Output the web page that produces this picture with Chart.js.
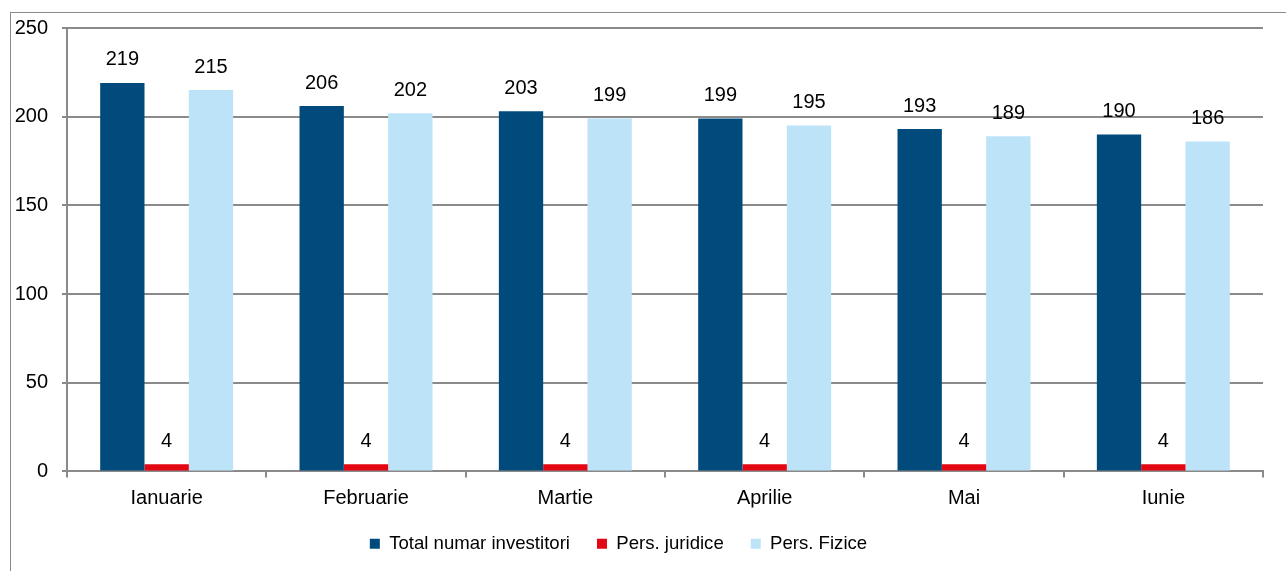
<!DOCTYPE html>
<html>
<head>
<meta charset="utf-8">
<script src="https://cdn.jsdelivr.net/npm/chart.js@4.4.0/dist/chart.umd.min.js"></script>
<style>
    html, body { margin: 0; padding: 0; background: #fff; }
    #frame { position: absolute; left: 10px; top: 12px; width: 1300px; height: 600px; border: 1px solid #8a8a8a; }
    #wrap { position: absolute; left: 0; top: 0; width: 1286px; height: 571px; }
</style>
</head>
<body>
<div id="frame"></div>
<div id="wrap"><canvas id="investChart"></canvas></div>
<script>
// Chart data
var months = ['Ianuarie', 'Februarie', 'Martie', 'Aprilie', 'Mai', 'Iunie'];
var totalInvestitori = [219, 206, 203, 199, 193, 190];
var persJuridice = [4, 4, 4, 4, 4, 4];
var persFizice = [215, 202, 199, 195, 189, 186];
var yTicks = [0, 50, 100, 150, 200, 250];

var fontFamily = '"Liberation Sans", Arial, sans-serif';

// Values above bars
var valueLabels = {
    id: 'valueLabels',
    afterDatasetsDraw: function(chart) {
        var ctx = chart.ctx;
        ctx.save();
        ctx.font = '20px ' + fontFamily;
        ctx.fillStyle = '#000';
        ctx.textAlign = 'center';
        ctx.textBaseline = 'middle';
        chart.data.datasets.forEach(function(ds, i) {
            chart.getDatasetMeta(i).data.forEach(function(bar, j) {
                ctx.fillText(ds.data[j], bar.x, bar.y - 23);
            });
        });
        ctx.restore();
    }
};

// Legend sits a bit left of centre in the original
var legendShift = {
    id: 'legendShift',
    afterLayout: function(chart) {
        chart.legend.left -= 18;
        chart.legend.right -= 18;
    }
};

var ctx = document.getElementById('investChart').getContext('2d');
new Chart(ctx, {
    type: 'bar',
    data: {
        labels: months,
        datasets: [{
            label: 'Total numar investitori',
            data: totalInvestitori,
            backgroundColor: '#004a7c'
        }, {
            label: 'Pers. juridice',
            data: persJuridice,
            backgroundColor: '#e30613'
        }, {
            label: 'Pers. Fizice',
            data: persFizice,
            backgroundColor: '#bde3f8'
        }]
    },
    options: {
        responsive: true,
        maintainAspectRatio: false,
        animation: false,
        datasets: {
            bar: { barPercentage: 1, categoryPercentage: 0.667 }
        },
        layout: {
            padding: { left: 10, right: 23, top: 28, bottom: 8 }
        },
        scales: {
            x: {
                afterFit: function(scale) { scale.height = 36; },
                grid: { drawOnChartArea: false, drawTicks: true, tickLength: 6, color: '#8a8a8a', lineWidth: 2 },
                border: { color: '#8a8a8a', width: 2 },
                ticks: { color: '#000', padding: 9, font: { size: 20, family: fontFamily } }
            },
            y: {
                min: 0,
                max: 250,
                afterFit: function(scale) { scale.width = 57; },
                afterBuildTicks: function(scale) {
                    scale.ticks = yTicks.map(function(v) { return { value: v }; });
                },
                grid: { color: '#8a8a8a', lineWidth: 2, tickLength: 5 },
                border: { color: '#8a8a8a', width: 2 },
                ticks: { color: '#000', padding: 14, font: { size: 20, family: fontFamily } }
            }
        },
        plugins: {
            tooltip: { enabled: false },
            legend: {
                position: 'bottom',
                labels: {
                    color: '#000',
                    boxWidth: 10,
                    boxHeight: 10,
                    padding: 27,
                    font: { size: 18.6, family: fontFamily }
                }
            }
        }
    },
    plugins: [valueLabels, legendShift]
});
</script>
</body>
</html>
